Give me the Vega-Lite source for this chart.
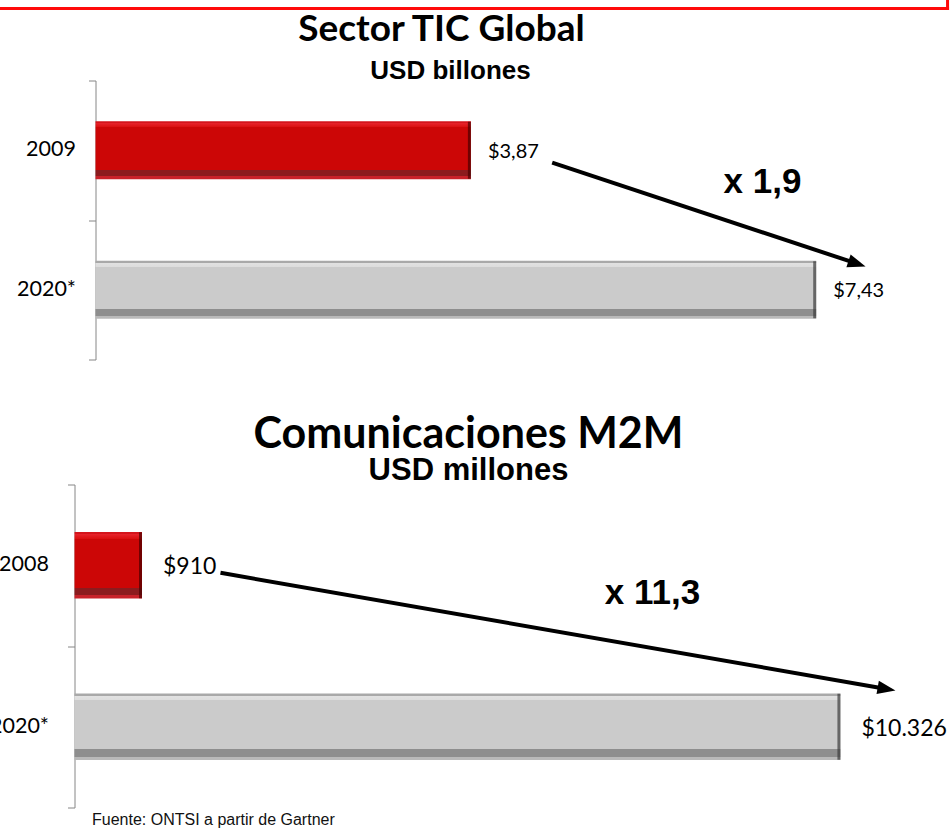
{
  "$schema": "https://vega.github.io/schema/vega-lite/v6.json",
  "padding": {"left": -22.5, "top": -21.5, "right": 0, "bottom": 0},
  "background": "white",
  "config": {"view": {"stroke": null}, "font": "Lato"},
  "spacing": 53,
  "datasets": {
    "tic": [
      {"year": "2009", "value": 3.87, "label": "$3,87"},
      {"year": "2020*", "value": 7.43, "label": "$7,43"}
    ],
    "m2m": [
      {"year": "2008", "value": 910, "label": "$910"},
      {"year": "2020*", "value": 10326, "label": "$10.326"}
    ],
    "ticTitle": [{"x": 3.567, "y": -0.2867, "text": "Sector TIC Global"}],
    "ticSub": [{"x": 3.66, "y": -0.0072, "text": "USD billones"}],
    "ticArrow": [{"x": 4.708, "y": 0.588, "x2": 7.851, "y2": 1.313}],
    "ticNote": [{"x": 6.876, "y": 0.81, "text": "x 1,9"}],
    "frame": [
      {"x": -1.1856, "y": -0.516, "x2": 8.784, "y2": -0.516},
      {"x": 8.784, "y": -0.516, "x2": 8.784, "y2": -0.71}
    ],
    "m2mArrow": [{"x": 1968, "y": 0.547, "x2": 10948, "y2": 1.266}],
    "m2mNote": [{"x": 7792, "y": 0.737, "text": "x 11,3"}]
  },
  "vconcat": [
    {
      "width": 845.5,
      "height": 279,
      "resolve": {"scale": {"y": "independent"}, "axis": {"y": "independent"}},
      "layer": [
        {
          "data": {"name": "tic"},
          "layer": [
            {
              "transform": [{"filter": "datum.year == '2009'"}],
              "mark": {"type": "bar", "fill": {"gradient": "linear", "x1": 0, "y1": 0, "x2": 0, "y2": 1, "stops": [
                {"offset": 0, "color": "#D4141B"}, {"offset": 0.035, "color": "#D4141B"},
                {"offset": 0.035, "color": "#E6222A"}, {"offset": 0.1, "color": "#DA1010"},
                {"offset": 0.1, "color": "#CC0606"}, {"offset": 0.84, "color": "#CC0606"},
                {"offset": 0.84, "color": "#8C1B1E"}, {"offset": 0.95, "color": "#8C1B1E"},
                {"offset": 0.95, "color": "#C8222A"}, {"offset": 1, "color": "#C8222A"}]}},
              "encoding": {
                "y": {"field": "year", "type": "nominal", "scale": {"domain": ["2009", "2020*"], "paddingInner": 0.584, "paddingOuter": 0.292}, "axis": {"orient": "left", "title": null, "domain": false, "ticks": false, "labelFont": "Lato", "labelFontSize": 21.5, "labelColor": "#000", "labelPadding": 20, "offset": -21}},
                "x": {"field": "value", "type": "quantitative", "scale": {"domain": [-0.2165, 8.5], "nice": false, "zero": false}, "axis": null}
              }
            },
            {
              "transform": [{"filter": "datum.year == '2020*'"}],
              "mark": {"type": "bar", "fill": {"gradient": "linear", "x1": 0, "y1": 0, "x2": 0, "y2": 1, "stops": [
                {"offset": 0, "color": "#A9A9A9"}, {"offset": 0.035, "color": "#A9A9A9"},
                {"offset": 0.035, "color": "#E2E2E2"}, {"offset": 0.1, "color": "#DDDDDD"},
                {"offset": 0.1, "color": "#CBCBCB"}, {"offset": 0.84, "color": "#CBCBCB"},
                {"offset": 0.84, "color": "#8E8E8E"}, {"offset": 0.95, "color": "#8E8E8E"},
                {"offset": 0.95, "color": "#B9B9B9"}, {"offset": 1, "color": "#B9B9B9"}]}},
              "encoding": {
                "y": {"field": "year", "type": "nominal", "scale": {"domain": ["2009", "2020*"], "paddingInner": 0.584, "paddingOuter": 0.292}, "axis": {"orient": "left", "title": null, "domain": false, "ticks": false, "labelFont": "Lato", "labelFontSize": 21.5, "labelColor": "#000", "labelPadding": 20, "offset": -21}},
                "x": {"field": "value", "type": "quantitative", "scale": {"domain": [-0.2165, 8.5], "nice": false, "zero": false}, "axis": null}
              }
            },
            {
              "mark": {"type": "tick", "orient": "vertical", "thickness": 3, "size": 57, "xOffset": -1.5},
              "encoding": {
                "y": {"field": "year", "type": "nominal", "scale": {"domain": ["2009", "2020*"], "paddingInner": 0.584, "paddingOuter": 0.292}, "axis": {"orient": "left", "title": null, "domain": false, "ticks": false, "labelFont": "Lato", "labelFontSize": 21.5, "labelColor": "#000", "labelPadding": 20, "offset": -21}},
                "x": {"field": "value", "type": "quantitative", "scale": {"domain": [-0.2165, 8.5], "nice": false, "zero": false}, "axis": null},
                "color": {"condition": {"test": "datum.year == '2020*'", "value": "#3B3B3B"}, "value": "#4A0000"}
              }
            },
            {
              "mark": {"type": "text", "align": "left", "baseline": "middle", "dx": 17, "dy": 1.5, "font": "Lato", "fontSize": 20, "color": "#000"},
              "encoding": {
                "y": {"field": "year", "type": "nominal", "scale": {"domain": ["2009", "2020*"], "paddingInner": 0.584, "paddingOuter": 0.292}, "axis": {"orient": "left", "title": null, "domain": false, "ticks": false, "labelFont": "Lato", "labelFontSize": 21.5, "labelColor": "#000", "labelPadding": 20, "offset": -21}},
                "x": {"field": "value", "type": "quantitative", "scale": {"domain": [-0.2165, 8.5], "nice": false, "zero": false}, "axis": null},
                "text": {"field": "label"}
              }
            }
          ]
        },
        {
          "layer": [
            {
              "data": {"name": "ticTitle"},
              "mark": {"type": "text", "align": "center", "baseline": "alphabetic", "font": "Lato", "fontWeight": "bold", "fontSize": 37, "color": "#000"},
              "encoding": {
                "x": {"field": "x", "type": "quantitative", "scale": {"domain": [-0.2165, 8.5], "nice": false, "zero": false}, "axis": null},
                "y": {"field": "y", "type": "quantitative", "scale": {"domain": [0, 2], "reverse": true, "nice": false, "zero": false}, "axis": {"orient": "left", "values": [0, 1, 2], "labels": false, "title": null, "grid": false, "domainColor": "#868686", "tickColor": "#868686", "tickSize": 7, "domainWidth": 1, "tickWidth": 1, "offset": -21}},
                "text": {"field": "text"}
              }
            },
            {
              "data": {"name": "ticSub"},
              "mark": {"type": "text", "align": "center", "baseline": "alphabetic", "font": "Liberation Sans", "fontWeight": "bold", "fontSize": 26, "color": "#000"},
              "encoding": {
                "x": {"field": "x", "type": "quantitative", "scale": {"domain": [-0.2165, 8.5], "nice": false, "zero": false}, "axis": null},
                "y": {"field": "y", "type": "quantitative", "scale": {"domain": [0, 2], "reverse": true, "nice": false, "zero": false}, "axis": {"orient": "left", "values": [0, 1, 2], "labels": false, "title": null, "grid": false, "domainColor": "#868686", "tickColor": "#868686", "tickSize": 7, "domainWidth": 1, "tickWidth": 1, "offset": -21}},
                "text": {"field": "text"}
              }
            },
            {
              "data": {"name": "ticArrow"},
              "mark": {"type": "rule", "strokeWidth": 4, "color": "#000"},
              "encoding": {
                "x": {"field": "x", "type": "quantitative", "scale": {"domain": [-0.2165, 8.5], "nice": false, "zero": false}, "axis": null},
                "x2": {"field": "x2"},
                "y": {"field": "y", "type": "quantitative", "scale": {"domain": [0, 2], "reverse": true, "nice": false, "zero": false}, "axis": {"orient": "left", "values": [0, 1, 2], "labels": false, "title": null, "grid": false, "domainColor": "#868686", "tickColor": "#868686", "tickSize": 7, "domainWidth": 1, "tickWidth": 1, "offset": -21}},
                "y2": {"field": "y2"}
              }
            },
            {
              "data": {"name": "ticArrow"},
              "mark": {"type": "point", "shape": "M1,0L-1,-0.75L-1,0.75Z", "size": 324, "filled": true, "color": "#000", "opacity": 1, "angle": 18.4, "strokeWidth": 0},
              "encoding": {
                "x": {"field": "x2", "type": "quantitative", "scale": {"domain": [-0.2165, 8.5], "nice": false, "zero": false}, "axis": null},
                "y": {"field": "y2", "type": "quantitative", "scale": {"domain": [0, 2], "reverse": true, "nice": false, "zero": false}, "axis": {"orient": "left", "values": [0, 1, 2], "labels": false, "title": null, "grid": false, "domainColor": "#868686", "tickColor": "#868686", "tickSize": 7, "domainWidth": 1, "tickWidth": 1, "offset": -21}}
              }
            },
            {
              "data": {"name": "ticNote"},
              "mark": {"type": "text", "align": "center", "baseline": "alphabetic", "font": "Liberation Sans", "fontWeight": "bold", "fontSize": 35, "color": "#000"},
              "encoding": {
                "x": {"field": "x", "type": "quantitative", "scale": {"domain": [-0.2165, 8.5], "nice": false, "zero": false}, "axis": null},
                "y": {"field": "y", "type": "quantitative", "scale": {"domain": [0, 2], "reverse": true, "nice": false, "zero": false}, "axis": {"orient": "left", "values": [0, 1, 2], "labels": false, "title": null, "grid": false, "domainColor": "#868686", "tickColor": "#868686", "tickSize": 7, "domainWidth": 1, "tickWidth": 1, "offset": -21}},
                "text": {"field": "text"}
              }
            },
            {
              "data": {"name": "frame"},
              "mark": {"type": "rule", "strokeWidth": 3, "color": "#FF0A0A", "strokeCap": "square"},
              "encoding": {
                "x": {"field": "x", "type": "quantitative", "scale": {"domain": [-0.2165, 8.5], "nice": false, "zero": false}, "axis": null},
                "x2": {"field": "x2"},
                "y": {"field": "y", "type": "quantitative", "scale": {"domain": [0, 2], "reverse": true, "nice": false, "zero": false}, "axis": {"orient": "left", "values": [0, 1, 2], "labels": false, "title": null, "grid": false, "domainColor": "#868686", "tickColor": "#868686", "tickSize": 7, "domainWidth": 1, "tickWidth": 1, "offset": -21}},
                "y2": {"field": "y2"}
              }
            }
          ]
        }
      ]
    },
    {
      "width": 853,
      "height": 323,
      "title": {"text": "Comunicaciones M2M", "subtitle": "USD millones", "font": "Lato", "fontSize": 43, "fontWeight": "bold", "color": "#000", "subtitleFont": "Liberation Sans", "subtitleFontSize": 31, "subtitleFontWeight": "bold", "subtitleColor": "#000", "anchor": "middle", "frame": "group", "dx": -32.5, "offset": -1.5, "subtitlePadding": -1},
      "resolve": {"scale": {"y": "independent"}, "axis": {"y": "independent"}},
      "layer": [
        {
          "data": {"name": "m2m"},
          "layer": [
            {
              "transform": [{"filter": "datum.year == '2008'"}],
              "mark": {"type": "bar", "fill": {"gradient": "linear", "x1": 0, "y1": 0, "x2": 0, "y2": 1, "stops": [
                {"offset": 0, "color": "#D4141B"}, {"offset": 0.035, "color": "#D4141B"},
                {"offset": 0.035, "color": "#E6222A"}, {"offset": 0.1, "color": "#DA1010"},
                {"offset": 0.1, "color": "#CC0606"}, {"offset": 0.84, "color": "#CC0606"},
                {"offset": 0.84, "color": "#8C1B1E"}, {"offset": 0.95, "color": "#8C1B1E"},
                {"offset": 0.95, "color": "#C8222A"}, {"offset": 1, "color": "#C8222A"}]}},
              "encoding": {
                "y": {"field": "year", "type": "nominal", "scale": {"domain": ["2008", "2020*"], "paddingInner": 0.588, "paddingOuter": 0.294}, "axis": {"orient": "left", "title": null, "domain": false, "ticks": false, "labelFont": "Lato", "labelFontSize": 21.5, "labelColor": "#000", "labelPadding": 26}},
                "x": {"field": "value", "type": "quantitative", "scale": {"domain": [0, 11500], "nice": false, "zero": false}, "axis": {"domain": false, "ticks": false, "labels": false, "grid": false, "title": "Fuente: ONTSI a partir de Gartner", "titleFont": "Liberation Sans", "titleFontSize": 16, "titleFontWeight": "normal", "titleColor": "#111", "titleAnchor": "start", "titleAlign": "left", "titleX": 17, "titlePadding": 4}}
              }
            },
            {
              "transform": [{"filter": "datum.year == '2020*'"}],
              "mark": {"type": "bar", "fill": {"gradient": "linear", "x1": 0, "y1": 0, "x2": 0, "y2": 1, "stops": [
                {"offset": 0, "color": "#A9A9A9"}, {"offset": 0.035, "color": "#A9A9A9"},
                {"offset": 0.035, "color": "#E2E2E2"}, {"offset": 0.1, "color": "#DDDDDD"},
                {"offset": 0.1, "color": "#CBCBCB"}, {"offset": 0.84, "color": "#CBCBCB"},
                {"offset": 0.84, "color": "#8E8E8E"}, {"offset": 0.95, "color": "#8E8E8E"},
                {"offset": 0.95, "color": "#B9B9B9"}, {"offset": 1, "color": "#B9B9B9"}]}},
              "encoding": {
                "y": {"field": "year", "type": "nominal", "scale": {"domain": ["2008", "2020*"], "paddingInner": 0.588, "paddingOuter": 0.294}, "axis": {"orient": "left", "title": null, "domain": false, "ticks": false, "labelFont": "Lato", "labelFontSize": 21.5, "labelColor": "#000", "labelPadding": 26}},
                "x": {"field": "value", "type": "quantitative", "scale": {"domain": [0, 11500], "nice": false, "zero": false}, "axis": {"domain": false, "ticks": false, "labels": false, "grid": false, "title": "Fuente: ONTSI a partir de Gartner", "titleFont": "Liberation Sans", "titleFontSize": 16, "titleFontWeight": "normal", "titleColor": "#111", "titleAnchor": "start", "titleAlign": "left", "titleX": 17, "titlePadding": 4}}
              }
            },
            {
              "mark": {"type": "tick", "orient": "vertical", "thickness": 3, "size": 66, "xOffset": -1.5},
              "encoding": {
                "y": {"field": "year", "type": "nominal", "scale": {"domain": ["2008", "2020*"], "paddingInner": 0.588, "paddingOuter": 0.294}, "axis": {"orient": "left", "title": null, "domain": false, "ticks": false, "labelFont": "Lato", "labelFontSize": 21.5, "labelColor": "#000", "labelPadding": 26}},
                "x": {"field": "value", "type": "quantitative", "scale": {"domain": [0, 11500], "nice": false, "zero": false}, "axis": {"domain": false, "ticks": false, "labels": false, "grid": false, "title": "Fuente: ONTSI a partir de Gartner", "titleFont": "Liberation Sans", "titleFontSize": 16, "titleFontWeight": "normal", "titleColor": "#111", "titleAnchor": "start", "titleAlign": "left", "titleX": 17, "titlePadding": 4}},
                "color": {"condition": {"test": "datum.year == '2020*'", "value": "#3B3B3B"}, "value": "#4A0000"}
              }
            },
            {
              "mark": {"type": "text", "align": "left", "baseline": "middle", "dx": 21, "dy": 2, "font": "Lato", "fontSize": 23, "color": "#000"},
              "encoding": {
                "y": {"field": "year", "type": "nominal", "scale": {"domain": ["2008", "2020*"], "paddingInner": 0.588, "paddingOuter": 0.294}, "axis": {"orient": "left", "title": null, "domain": false, "ticks": false, "labelFont": "Lato", "labelFontSize": 21.5, "labelColor": "#000", "labelPadding": 26}},
                "x": {"field": "value", "type": "quantitative", "scale": {"domain": [0, 11500], "nice": false, "zero": false}, "axis": {"domain": false, "ticks": false, "labels": false, "grid": false, "title": "Fuente: ONTSI a partir de Gartner", "titleFont": "Liberation Sans", "titleFontSize": 16, "titleFontWeight": "normal", "titleColor": "#111", "titleAnchor": "start", "titleAlign": "left", "titleX": 17, "titlePadding": 4}},
                "text": {"field": "label"}
              }
            }
          ]
        },
        {
          "layer": [
            {
              "data": {"name": "m2mArrow"},
              "mark": {"type": "rule", "strokeWidth": 4, "color": "#000"},
              "encoding": {
                "x": {"field": "x", "type": "quantitative", "scale": {"domain": [0, 11500], "nice": false, "zero": false}, "axis": {"domain": false, "ticks": false, "labels": false, "grid": false, "title": "Fuente: ONTSI a partir de Gartner", "titleFont": "Liberation Sans", "titleFontSize": 16, "titleFontWeight": "normal", "titleColor": "#111", "titleAnchor": "start", "titleAlign": "left", "titleX": 17, "titlePadding": 4}},
                "x2": {"field": "x2"},
                "y": {"field": "y", "type": "quantitative", "scale": {"domain": [0, 2], "reverse": true, "nice": false, "zero": false}, "axis": {"orient": "left", "values": [0, 1, 2], "labels": false, "title": null, "grid": false, "domainColor": "#868686", "tickColor": "#868686", "tickSize": 7, "domainWidth": 1, "tickWidth": 1}},
                "y2": {"field": "y2"}
              }
            },
            {
              "data": {"name": "m2mArrow"},
              "mark": {"type": "point", "shape": "M1,0L-1,-0.75L-1,0.75Z", "size": 324, "filled": true, "color": "#000", "opacity": 1, "angle": 9.9, "strokeWidth": 0},
              "encoding": {
                "x": {"field": "x2", "type": "quantitative", "scale": {"domain": [0, 11500], "nice": false, "zero": false}, "axis": {"domain": false, "ticks": false, "labels": false, "grid": false, "title": "Fuente: ONTSI a partir de Gartner", "titleFont": "Liberation Sans", "titleFontSize": 16, "titleFontWeight": "normal", "titleColor": "#111", "titleAnchor": "start", "titleAlign": "left", "titleX": 17, "titlePadding": 4}},
                "y": {"field": "y2", "type": "quantitative", "scale": {"domain": [0, 2], "reverse": true, "nice": false, "zero": false}, "axis": {"orient": "left", "values": [0, 1, 2], "labels": false, "title": null, "grid": false, "domainColor": "#868686", "tickColor": "#868686", "tickSize": 7, "domainWidth": 1, "tickWidth": 1}}
              }
            },
            {
              "data": {"name": "m2mNote"},
              "mark": {"type": "text", "align": "center", "baseline": "alphabetic", "font": "Liberation Sans", "fontWeight": "bold", "fontSize": 35, "color": "#000"},
              "encoding": {
                "x": {"field": "x", "type": "quantitative", "scale": {"domain": [0, 11500], "nice": false, "zero": false}, "axis": {"domain": false, "ticks": false, "labels": false, "grid": false, "title": "Fuente: ONTSI a partir de Gartner", "titleFont": "Liberation Sans", "titleFontSize": 16, "titleFontWeight": "normal", "titleColor": "#111", "titleAnchor": "start", "titleAlign": "left", "titleX": 17, "titlePadding": 4}},
                "y": {"field": "y", "type": "quantitative", "scale": {"domain": [0, 2], "reverse": true, "nice": false, "zero": false}, "axis": {"orient": "left", "values": [0, 1, 2], "labels": false, "title": null, "grid": false, "domainColor": "#868686", "tickColor": "#868686", "tickSize": 7, "domainWidth": 1, "tickWidth": 1}},
                "text": {"field": "text"}
              }
            }
          ]
        }
      ]
    }
  ]
}
